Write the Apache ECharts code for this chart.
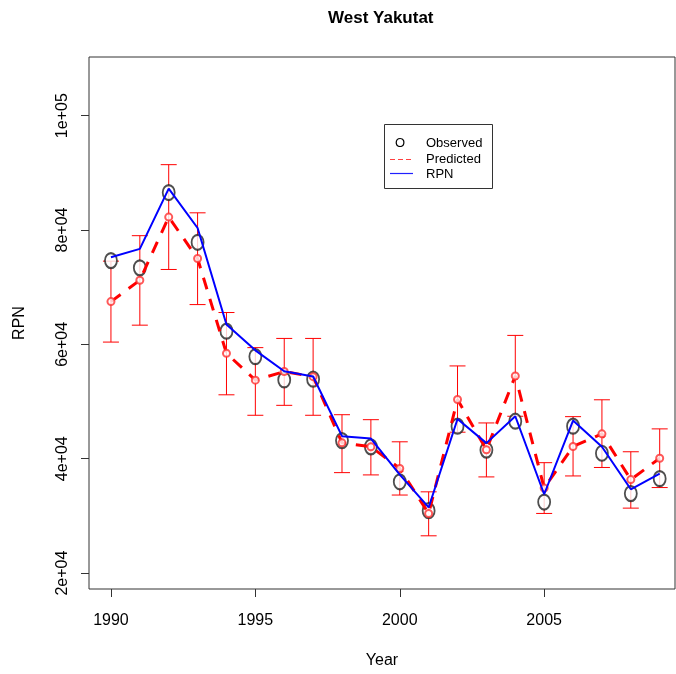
<!DOCTYPE html>
<html>
<head>
<meta charset="utf-8">
<script src="https://cdn.jsdelivr.net/npm/echarts@6/dist/echarts.min.js"></script>
<style>
  html, body { margin: 0; padding: 0; background: #fff; }
  #chart { width: 676px; height: 674px; }
</style>
</head>
<body>
<div id="chart"></div>
<script>
// West Yakutat relative population number (RPN) by survey year
const years = [1990, 1991, 1992, 1993, 1994, 1995, 1996, 1997, 1998, 1999,
               2000, 2001, 2002, 2003, 2004, 2005, 2006, 2007, 2008, 2009];
const observed = [74660, 73390, 86560, 77860, 62310, 57860, 53790, 53910, 43180, 42090,
                  35970, 30910, 45690, 41510, 46560, 32430, 45690, 40960, 33910, 36520];
const predicted = [67480, 71220, 82260, 75010, 58430, 53740, 55250, 54350, 42780, 42090,
                   38300, 30430, 50350, 41570, 54490, 34870, 42140, 44350, 36350, 40090];
const rpn = [75250, 76700, 87250, 80350, 63480, 58960, 55300, 54380, 43950, 43530,
             37220, 31480, 46960, 42730, 47430, 33790, 46670, 42090, 34660, 37390];
const lower = [60400, 63360, 73100, 66960, 51180, 47600, 49340, 47600, 37570, 37170,
               33650, 26520, 44640, 36820, 47430, 30430, 36990, 38470, 31360, 34960];
const upper = [74560, 79010, 91430, 83010, 65570, 59430, 61040, 61040, 47700, 46830,
               42960, 34210, 56230, 46260, 61570, 39310, 47360, 50310, 41220, 45220];
const xTicks = [1990, 1995, 2000, 2005];
const yTicks = [20000, 40000, 60000, 80000, 100000];
const legendLabels = ['Observed', 'Predicted', 'RPN'];

const FONT = 'Liberation Sans, Arial, sans-serif';

// R-style scientific tick text, e.g. 1e+05, 2e+04
function sci(v) {
  const e = Math.floor(Math.log10(v));
  const m = Math.round(v / Math.pow(10, e) * 100) / 100;
  return m + 'e+' + String(e).padStart(2, '0');
}

const chart = echarts.init(document.getElementById('chart'), null, { renderer: 'canvas' });

const errData = years.map((y, i) => [y, lower[i], upper[i]]);

function renderErrorBar(params, api) {
  const lo = api.coord([api.value(0), api.value(1)]);
  const hi = api.coord([api.value(0), api.value(2)]);
  const half = 8;
  const style = { stroke: '#ff0000', lineWidth: 1 };
  return {
    type: 'group',
    children: [
      { type: 'line', shape: { x1: lo[0], y1: lo[1], x2: hi[0], y2: hi[1] }, style },
      { type: 'line', shape: { x1: lo[0] - half, y1: lo[1], x2: lo[0] + half, y2: lo[1] }, style },
      { type: 'line', shape: { x1: hi[0] - half, y1: hi[1], x2: hi[0] + half, y2: hi[1] }, style }
    ]
  };
}

// legend box in the upper middle of the plot
const LX = 384, LY = 124;

const option = {
  animation: false,
  backgroundColor: '#ffffff',
  title: {
    text: 'West Yakutat',
    left: 323,
    top: 5,
    textStyle: { fontFamily: FONT, fontWeight: 'bold', fontSize: 17, color: '#000' }
  },
  grid: {
    left: 89, right: 1, top: 57, bottom: 82,
    show: true, borderColor: '#333', borderWidth: 1, backgroundColor: 'transparent'
  },
  xAxis: {
    type: 'value',
    min: 1989.24,
    max: 2009.53,
    name: 'Year',
    nameLocation: 'middle',
    nameGap: 64,
    nameTextStyle: { fontFamily: FONT, fontSize: 16, color: '#000' },
    splitLine: { show: false },
    axisLine: { show: false },
    axisTick: { show: true, inside: false, length: 8, customValues: xTicks,
                lineStyle: { color: '#333', width: 1 } },
    axisLabel: { customValues: xTicks, margin: 24, fontFamily: FONT, fontSize: 16, color: '#000',
                 formatter: v => String(v) }
  },
  yAxis: {
    type: 'value',
    min: 17217,
    max: 110261,
    name: 'RPN',
    nameLocation: 'middle',
    nameRotate: 90,
    nameGap: 61,
    nameTextStyle: { fontFamily: FONT, fontSize: 16, color: '#000' },
    splitLine: { show: false },
    axisLine: { show: false },
    axisTick: { show: true, inside: false, length: 8, customValues: yTicks,
                lineStyle: { color: '#333', width: 1 } },
    axisLabel: { customValues: yTicks, rotate: 90, margin: 18, fontFamily: FONT, fontSize: 16,
                 color: '#000', formatter: v => sci(v) }
  },
  series: [
    {
      name: 'Error',
      type: 'custom',
      renderItem: renderErrorBar,
      data: errData,
      encode: { x: 0, y: [1, 2] },
      z: 1,
      silent: true
    },
    {
      name: legendLabels[0],
      type: 'scatter',
      data: years.map((y, i) => [y, observed[i]]),
      symbol: 'emptyCircle',
      symbolSize: [12, 15],
      itemStyle: { color: '#222', borderColor: '#222', borderWidth: 1.4 },
      z: 2
    },
    {
      name: legendLabels[1],
      type: 'line',
      data: years.map((y, i) => [y, predicted[i]]),
      symbol: 'none',
      lineStyle: { color: '#ff0000', width: 3, type: [12, 10], cap: 'butt' },
      z: 3
    },
    {
      name: 'Predicted points',
      type: 'scatter',
      data: years.map((y, i) => [y, predicted[i]]),
      symbol: 'emptyCircle',
      symbolSize: 7,
      itemStyle: { color: '#ff3030', borderColor: '#ff3030', borderWidth: 1 },
      z: 3
    },
    {
      name: legendLabels[2],
      type: 'line',
      data: years.map((y, i) => [y, rpn[i]]),
      symbol: 'none',
      lineStyle: { color: '#0000ff', width: 2 },
      z: 4
    }
  ],
  graphic: [
    { type: 'rect', z: 10, shape: { x: LX + 0.5, y: LY + 0.5, width: 108, height: 64 },
      style: { fill: '#fff', stroke: '#333', lineWidth: 1 } },
    { type: 'text', z: 11, x: LX + 16, y: LY + 19,
      style: { text: 'O', font: '13px ' + FONT, fill: '#000',
               align: 'center', verticalAlign: 'middle' } },
    { type: 'line', z: 11, shape: { x1: LX + 6, y1: LY + 35.5, x2: LX + 29, y2: LY + 35.5 },
      style: { stroke: '#ff4040', lineWidth: 1.2, lineDash: [5, 3], fill: null } },
    { type: 'line', z: 11, shape: { x1: LX + 6, y1: LY + 49.5, x2: LX + 29, y2: LY + 49.5 },
      style: { stroke: '#2020ff', lineWidth: 1.2, fill: null } },
    { type: 'text', z: 11, x: LX + 42, y: LY + 19,
      style: { text: legendLabels[0], font: '13px ' + FONT, fill: '#000', verticalAlign: 'middle' } },
    { type: 'text', z: 11, x: LX + 42, y: LY + 35,
      style: { text: legendLabels[1], font: '13px ' + FONT, fill: '#000', verticalAlign: 'middle' } },
    { type: 'text', z: 11, x: LX + 42, y: LY + 50,
      style: { text: legendLabels[2], font: '13px ' + FONT, fill: '#000', verticalAlign: 'middle' } }
  ]
};

chart.setOption(option);
</script>
</body>
</html>
